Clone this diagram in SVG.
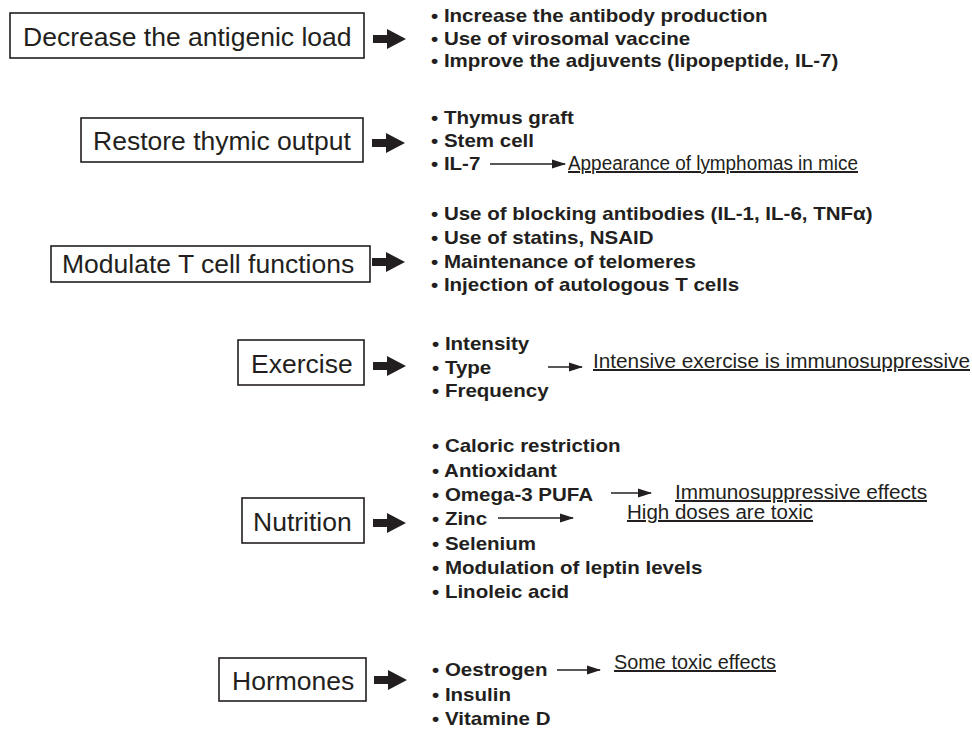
<svg xmlns="http://www.w3.org/2000/svg" width="972" height="729" viewBox="0 0 972 729">
<defs>
<style>
.box{fill:#fff;stroke:#231f20;stroke-width:1.6}
.lbl{font-family:"Liberation Sans",Arial,sans-serif;font-size:26.5px;fill:#231f20}
.li{font-family:"Liberation Sans",Arial,sans-serif;font-weight:bold;font-size:18px;fill:#231f20}
.note{font-family:"Liberation Sans",Arial,sans-serif;font-size:20px;fill:#231f20;text-decoration:underline}
.big{fill:#231f20}
.thin{stroke:#231f20;stroke-width:1.5;fill:none;marker-end:url(#ah)}
</style>
<marker id="ah" markerWidth="14" markerHeight="10" refX="13" refY="5" orient="auto" markerUnits="userSpaceOnUse">
<path d="M0,0.5 L14,5 L0,9.5 z" fill="#231f20"/>
</marker>
<path id="bigarrow" d="M0,-4 h14 v-6 l19,10 l-19,10 v-6 h-14 z"/>
</defs>
<rect width="972" height="729" fill="#fff"/>

<g id="node-decrease">
<rect class="box" x="10" y="13" width="354" height="45"/>
<text class="lbl" x="23" y="46">Decrease the antigenic load</text>
</g>
<g id="list-decrease" transform="translate(431,0) scale(1.14,1)">
<text class="li" x="0" y="22">• Increase the antibody production</text>
<text class="li" x="0" y="45">• Use of virosomal vaccine</text>
<text class="li" x="0" y="67">• Improve the adjuvents (lipopeptide, IL-7)</text>
</g>

<g id="node-thymic">
<rect class="box" x="81" y="118" width="282" height="44"/>
<text class="lbl" x="93" y="150">Restore thymic output</text>
</g>
<g id="list-thymic" transform="translate(431,0) scale(1.14,1)">
<text class="li" x="0" y="124">• Thymus graft</text>
<text class="li" x="0" y="147">• Stem cell</text>
<text class="li" x="0" y="170">• IL-7</text>
</g>
<text id="note-lymphomas" class="note" x="568" y="170" textLength="290" lengthAdjust="spacingAndGlyphs">Appearance of lymphomas in mice</text>

<g id="node-tcell">
<rect class="box" x="51" y="246" width="319" height="36"/>
<text class="lbl" x="62" y="273">Modulate T cell functions</text>
</g>
<g id="list-tcell" transform="translate(431,0) scale(1.14,1)">
<text class="li" x="0" y="220">• Use of blocking antibodies (IL-1, IL-6, TNFα)</text>
<text class="li" x="0" y="244">• Use of statins, NSAID</text>
<text class="li" x="0" y="268">• Maintenance of telomeres</text>
<text class="li" x="0" y="291">• Injection of autologous T cells</text>
</g>

<g id="node-exercise">
<rect class="box" x="238" y="340" width="126" height="45"/>
<text class="lbl" x="251" y="373">Exercise</text>
</g>
<g id="list-exercise" transform="translate(432,0) scale(1.14,1)">
<text class="li" x="0" y="350">• Intensity</text>
<text class="li" x="0" y="374">• Type</text>
<text class="li" x="0" y="397">• Frequency</text>
</g>
<text id="note-exercise" class="note" x="593" y="368" textLength="377" lengthAdjust="spacingAndGlyphs">Intensive exercise is immunosuppressive</text>

<g id="node-nutrition">
<rect class="box" x="242" y="498" width="122" height="45"/>
<text class="lbl" x="253" y="531">Nutrition</text>
</g>
<g id="list-nutrition" transform="translate(432,0) scale(1.14,1)">
<text class="li" x="0" y="452">• Caloric restriction</text>
<text class="li" x="0" y="477">• Antioxidant</text>
<text class="li" x="0" y="501">• Omega-3 PUFA</text>
<text class="li" x="0" y="525">• Zinc</text>
<text class="li" x="0" y="550">• Selenium</text>
<text class="li" x="0" y="574">• Modulation of leptin levels</text>
<text class="li" x="0" y="598">• Linoleic acid</text>
</g>
<text id="note-omega" class="note" x="675" y="499" textLength="252" lengthAdjust="spacingAndGlyphs">Immunosuppressive effects</text>
<text id="note-zinc" class="note" x="627" y="519" textLength="186" lengthAdjust="spacingAndGlyphs">High doses are toxic</text>

<g id="node-hormones">
<rect class="box" x="219" y="658" width="147" height="43"/>
<text class="lbl" x="232" y="690">Hormones</text>
</g>
<g id="list-hormones" transform="translate(432,0) scale(1.14,1)">
<text class="li" x="0" y="676">• Oestrogen</text>
<text class="li" x="0" y="701">• Insulin</text>
<text class="li" x="0" y="725">• Vitamine D</text>
</g>
<text id="note-oestrogen" class="note" x="614" y="669" textLength="162" lengthAdjust="spacingAndGlyphs">Some toxic effects</text>

<g id="connectors">
<use href="#bigarrow" class="big" x="373" y="39"/>
<use href="#bigarrow" class="big" x="372" y="143"/>
<use href="#bigarrow" class="big" x="372" y="262"/>
<use href="#bigarrow" class="big" x="373" y="366"/>
<use href="#bigarrow" class="big" x="373" y="523"/>
<use href="#bigarrow" class="big" x="374" y="680"/>
<line class="thin" x1="490" y1="164" x2="565" y2="164"/>
<line class="thin" x1="548" y1="367" x2="582" y2="367"/>
<line class="thin" x1="611" y1="493" x2="651" y2="493"/>
<line class="thin" x1="498" y1="518" x2="573" y2="518"/>
<line class="thin" x1="557" y1="670" x2="600" y2="670"/>
</g>
</svg>
